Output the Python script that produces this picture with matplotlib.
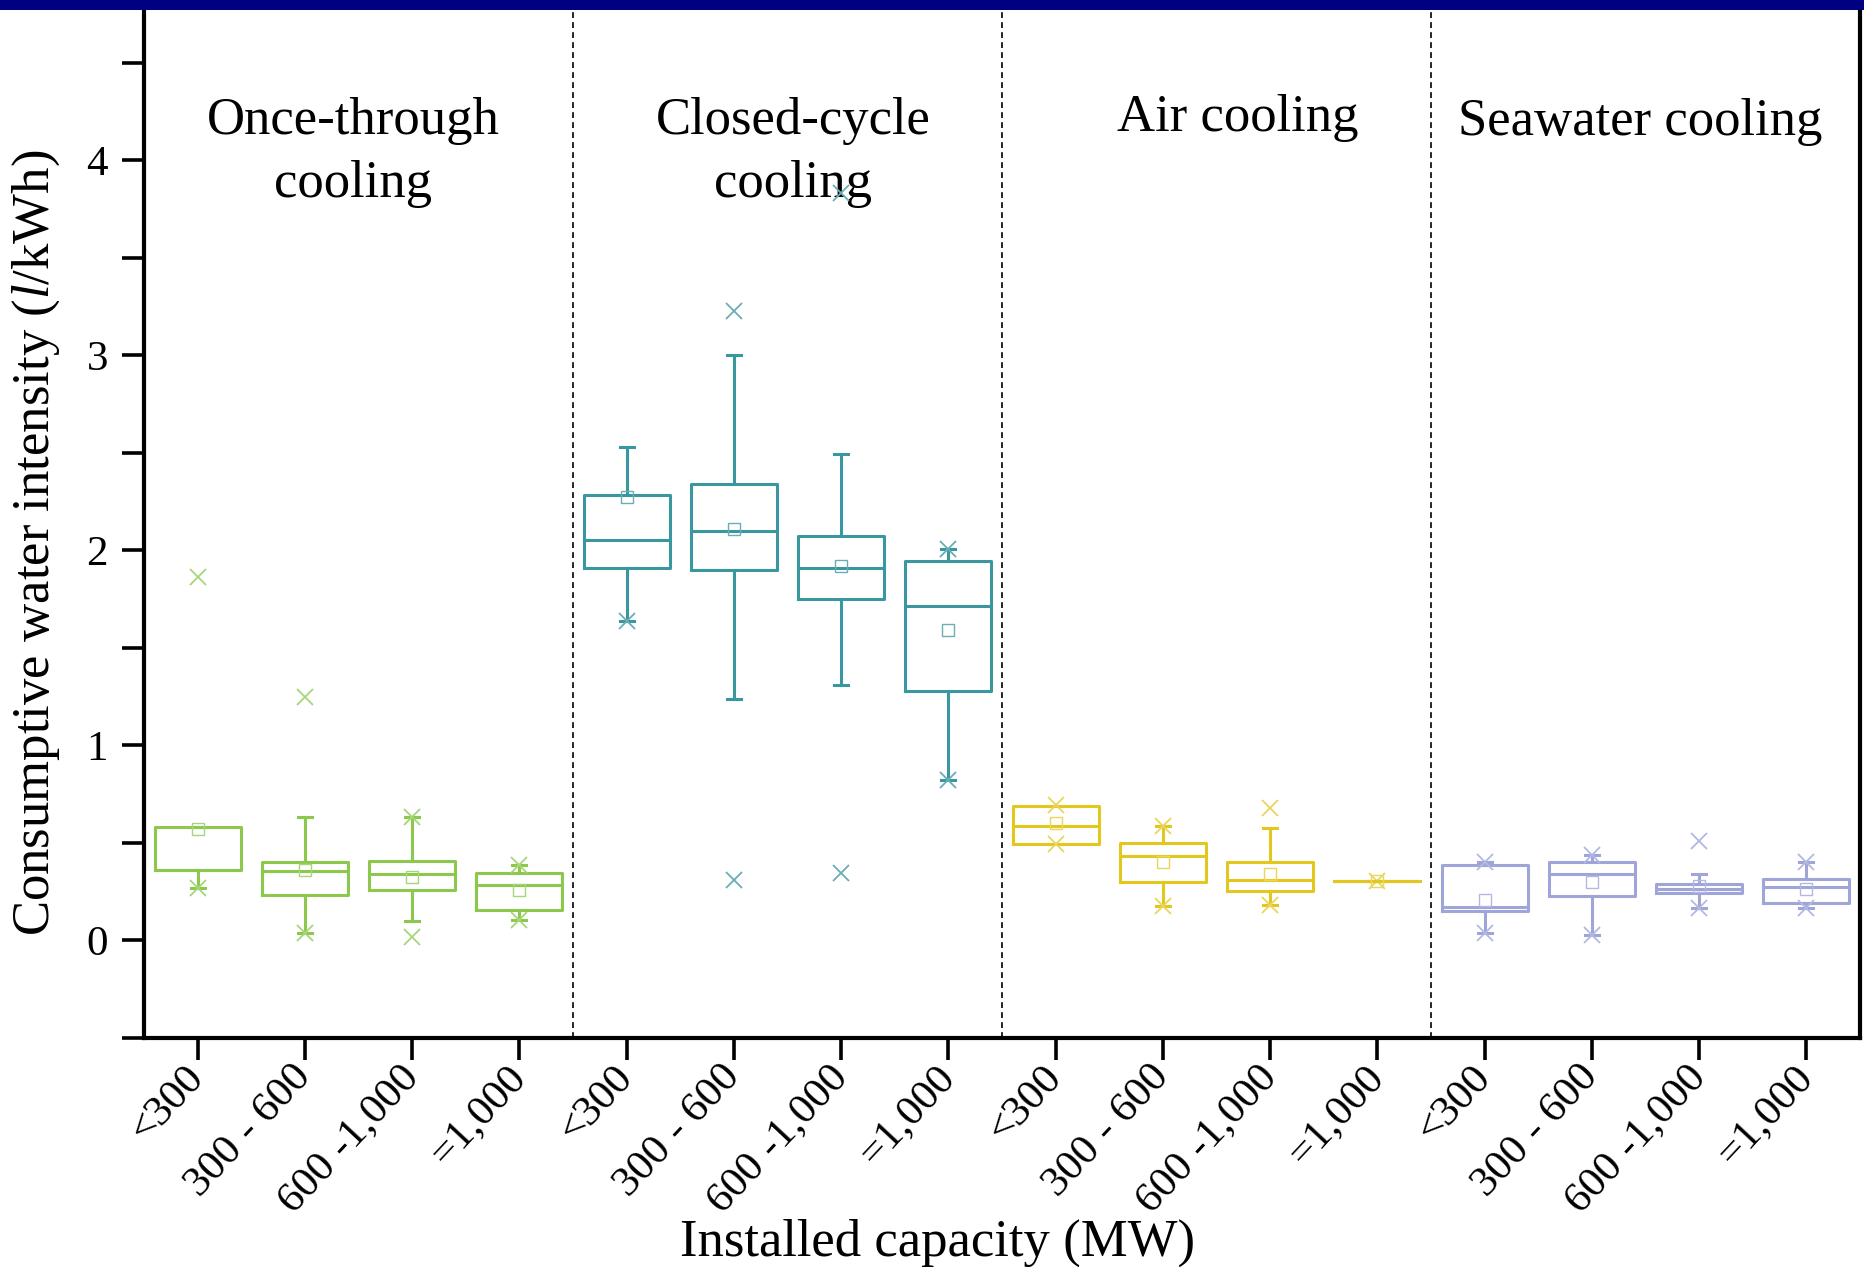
import matplotlib
matplotlib.use("Agg")
import matplotlib.pyplot as plt
from matplotlib.patches import Rectangle
from matplotlib.ticker import MultipleLocator

plt.rcParams['font.family'] = ['Liberation Serif', 'DejaVu Serif']
plt.rcParams['mathtext.fontset'] = 'custom'
plt.rcParams['mathtext.rm'] = 'Liberation Serif'
plt.rcParams['mathtext.it'] = 'Liberation Serif:italic'

# ---------------- data ----------------
categories = ["<300", "300 - 600", "600 -1,000", "=1,000"]
groups = ["Once-through\ncooling", "Closed-cycle\ncooling", "Air cooling", "Seawater cooling"]
colors = ["#8cc84b", "#3a97a0", "#e2c81e", "#9fa5d8"]
marker_colors = ["#a6d67a", "#6aaeb5", "#e9d65a", "#b3b8e2"]

# Once-through cooling
once_q1 = [0.357, 0.232, 0.258, 0.155]
once_med = [0.357, 0.352, 0.340, 0.280]
once_q3 = [0.579, 0.398, 0.407, 0.343]
once_wlo = [0.267, 0.036, 0.099, 0.104]
once_whi = [0.579, 0.629, 0.629, 0.383]
once_mean = [0.570, 0.357, 0.321, 0.254]
once_x = [[0.267, 1.860], [0.036, 1.246], [0.018, 0.630], [0.104, 0.383]]

# Closed-cycle cooling
closed_q1 = [1.906, 1.899, 1.749, 1.279]
closed_med = [2.054, 2.097, 1.906, 1.712]
closed_q3 = [2.282, 2.337, 2.070, 1.945]
closed_wlo = [1.637, 1.238, 1.306, 0.823]
closed_whi = [2.530, 2.998, 2.492, 2.008]
closed_mean = [2.270, 2.110, 1.920, 1.589]
closed_x = [[1.637], [0.308, 3.228], [0.342, 3.830], [0.823, 2.008]]

# Air cooling
air_q1 = [0.494, 0.296, 0.249, 0.305]
air_med = [0.586, 0.429, 0.309, 0.305]
air_q3 = [0.685, 0.497, 0.398, 0.305]
air_wlo = [0.494, 0.172, 0.181, 0.305]
air_whi = [0.685, 0.586, 0.572, 0.305]
air_mean = [0.600, 0.398, 0.340, 0.305]
air_x = [[0.490, 0.690], [0.172, 0.586], [0.181, 0.677], [0.305]]

# Seawater cooling
sea_q1 = [0.150, 0.224, 0.241, 0.190]
sea_med = [0.167, 0.340, 0.261, 0.272]
sea_q3 = [0.386, 0.398, 0.289, 0.313]
sea_wlo = [0.036, 0.027, 0.164, 0.164]
sea_whi = [0.400, 0.437, 0.340, 0.398]
sea_mean = [0.207, 0.300, 0.278, 0.261]
sea_x = [[0.036, 0.400], [0.027, 0.437], [0.164, 0.506], [0.164, 0.398]]

all_data = [
    (once_q1, once_med, once_q3, once_wlo, once_whi, once_mean, once_x),
    (closed_q1, closed_med, closed_q3, closed_wlo, closed_whi, closed_mean, closed_x),
    (air_q1, air_med, air_q3, air_wlo, air_whi, air_mean, air_x),
    (sea_q1, sea_med, sea_q3, sea_wlo, sea_whi, sea_mean, sea_x),
]

# ---------------- figure ----------------
W, H = 1864, 1267
fig = plt.figure(figsize=(W / 100, H / 100), dpi=100)
ax = fig.add_axes([144 / W, (H - 1037.5) / H, (1860 - 144) / W, (1037.5 - 10) / H])

n = len(categories)
for g, (q1, med, q3, wlo, whi, mean, xs) in enumerate(all_data):
    stats = []
    for i in range(n):
        stats.append(dict(q1=q1[i], med=med[i], q3=q3[i], whislo=wlo[i],
                          whishi=whi[i], mean=mean[i], fliers=xs[i]))
    positions = [g * n + i + 1 for i in range(n)]
    c = colors[g]
    mc = marker_colors[g]
    ax.bxp(stats, positions=positions, widths=0.8, capwidths=0.13,
           showmeans=True, showfliers=True,
           boxprops=dict(color=c, linewidth=2.2),
           medianprops=dict(color=c, linewidth=2.2),
           whiskerprops=dict(color=c, linewidth=2.2),
           capprops=dict(color=c, linewidth=2.2),
           meanprops=dict(marker='s', markerfacecolor='none', markeredgecolor=mc,
                          markersize=9, markeredgewidth=1.0),
           flierprops=dict(marker='x', markeredgecolor=mc, markersize=11,
                           markeredgewidth=1.3, linestyle='none'),
           manage_ticks=False)

for sep in [4.5, 8.5, 12.5]:
    ax.axvline(sep, color='black', linewidth=1.2, linestyle=(0, (3.5, 2.5)), zorder=0)

ax.set_xlim(0.5, 16.5)
ax.set_ylim(-0.5, 4.77)

ax.set_xticks(range(1, 4 * n + 1))
ax.set_xticklabels(categories * 4, rotation=47, ha='right', va='center',
                   rotation_mode='anchor', fontsize=31)
ax.yaxis.set_major_locator(MultipleLocator(1))
ax.yaxis.set_minor_locator(MultipleLocator(0.5))
ax.tick_params(axis='y', which='both', direction='out', length=16, width=2.6,
               labelsize=31, pad=10, right=False)
ax.tick_params(axis='x', which='both', direction='out', length=16, width=2.6,
               pad=8, top=False)

for side in ['left', 'bottom', 'right']:
    ax.spines[side].set_linewidth(3.0)
ax.spines['top'].set_visible(False)

ax.set_ylabel(r"Consumptive water intensity ($\mathit{l}$/kWh)", fontsize=38)
ax.yaxis.set_label_coords(-0.063, 0.481)
ax.yaxis.label.set_va('center')
ax.set_xlabel("Installed capacity (MW)", fontsize=38)
ax.xaxis.set_label_coords(0.4627, -0.2)
ax.xaxis.label.set_va('center')

title_x = [2.45, 6.55, 10.7, 14.45]
title_y = [4.04, 4.04, 4.215, 4.195]
for t, xx, yy in zip(groups, title_x, title_y):
    ax.text(xx, yy, t, ha='center', va='center', fontsize=38, linespacing=1.4,
            multialignment='center', zorder=1)

fig.patches.append(Rectangle((0, 1 - 10 / H), 1, 10 / H, transform=fig.transFigure,
                             facecolor='#000080', edgecolor='none', zorder=10))

fig.savefig("out.png", dpi=100)
